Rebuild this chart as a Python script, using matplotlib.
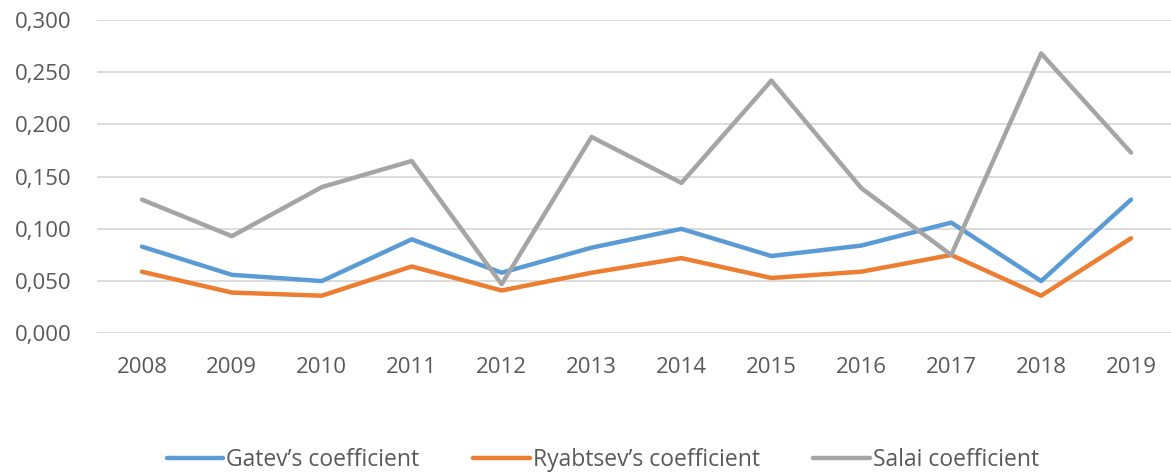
import numpy as np
import matplotlib.pyplot as plt
from matplotlib.ticker import FuncFormatter

anni = ['2008', '2009', '2010', '2011', '2012', '2013',
        '2014', '2015', '2016', '2017', '2018', '2019']
gatev = [0.083, 0.056, 0.050, 0.090, 0.058, 0.082,
         0.100, 0.074, 0.084, 0.106, 0.050, 0.128]
ryabtsev = [0.059, 0.039, 0.036, 0.064, 0.041, 0.058,
            0.072, 0.053, 0.059, 0.075, 0.036, 0.091]
salai = [0.128, 0.093, 0.140, 0.165, 0.047, 0.188,
         0.144, 0.242, 0.139, 0.075, 0.268, 0.173]

plt.rcParams['font.family'] = ['Open Sans', 'DejaVu Sans']
grigio_testo = '#595959'

fig = plt.figure(figsize=(11.71, 4.72), dpi=100)
ax = fig.add_axes([97/1171, 138.7/472, 1079/1171, 313.3/472])

x = np.arange(len(anni))
ax.plot(x, gatev, color='#5B9BD5', lw=3.2, solid_capstyle='round', label='Gatev\u2019s coefficient')
ax.plot(x, ryabtsev, color='#ED7D31', lw=3.2, solid_capstyle='round', label='Ryabtsev\u2019s coefficient')
ax.plot(x, salai, color='#A5A5A5', lw=3.2, solid_capstyle='round', label='Salai coefficient')

ax.set_xlim(-0.5, len(anni) - 0.5)
ax.set_ylim(0, 0.3)
ax.set_yticks(np.arange(0, 0.301, 0.05))
ax.yaxis.set_major_formatter(FuncFormatter(lambda v, p: f'{v:.3f}'.replace('.', ',')))
ax.set_xticks(x)
ax.set_xticklabels(anni)
ax.grid(axis='y', color='#D9D9D9', lw=1.3)
ax.set_axisbelow(True)
for s in ax.spines.values():
    s.set_visible(False)
ax.tick_params(axis='both', length=0, labelsize=16, colors=grigio_testo)
ax.tick_params(axis='y', pad=18.5)
ax.tick_params(axis='x', pad=17)

fig.legend(loc='center', bbox_to_anchor=(603/1171, 1 - 460/472), ncol=3, frameon=False,
           fontsize=16.5, labelcolor=grigio_testo, handlelength=2.45, handletextpad=0.13,
           columnspacing=2.35)

fig.savefig('out.png', dpi=100)
